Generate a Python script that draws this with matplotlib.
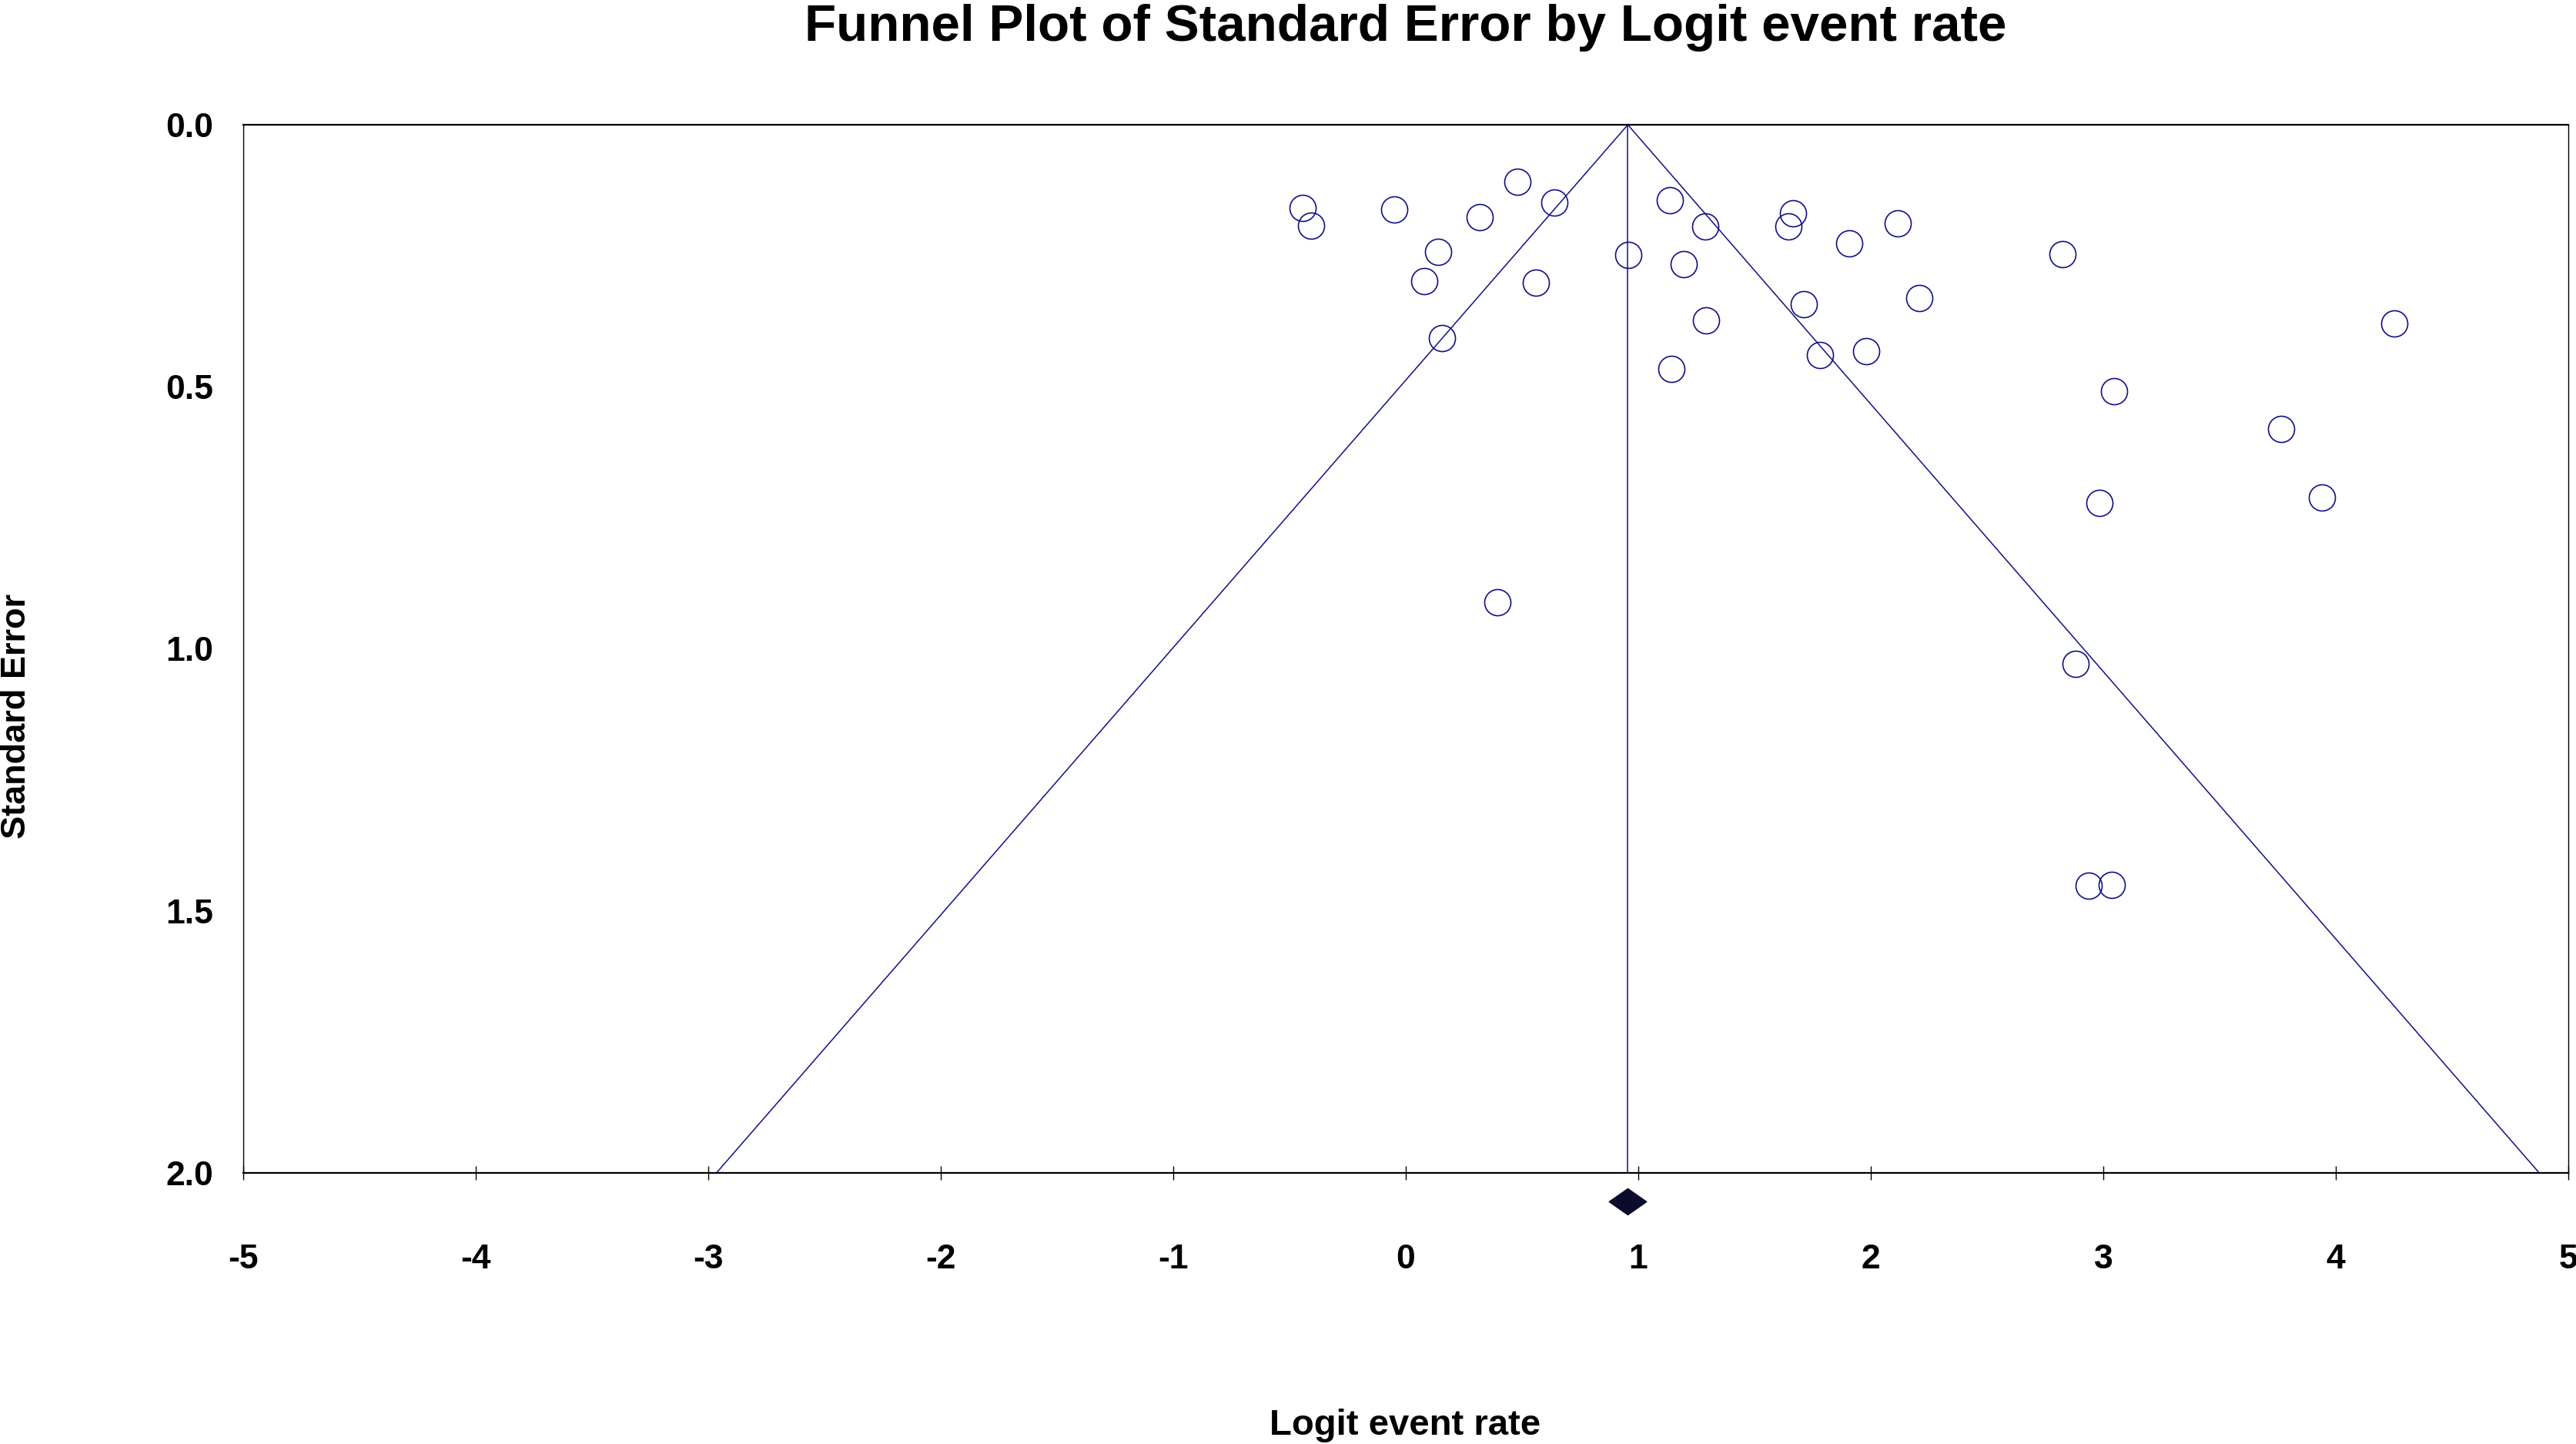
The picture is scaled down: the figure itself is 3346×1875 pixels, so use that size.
import matplotlib
matplotlib.use("Agg")
import matplotlib.pyplot as plt
import numpy as np
from matplotlib.path import Path

plt.rcParams['font.family'] = ['Liberation Sans', 'DejaVu Sans']
plt.rcParams['font.weight'] = 'bold'

# study estimates
logit_rate = [-0.443, -0.408, -0.051, 0.481, 0.317, 0.639, 0.139, 0.081, 0.558,
              0.157, 0.958, 1.135, 1.287, 1.194, 1.290, 1.143, 1.665, 1.645,
              1.908, 2.116, 1.711, 2.207, 1.781, 1.980, 2.823, 4.252, 3.047,
              3.765, 3.941, 2.983, 0.395, 2.882, 2.936, 3.037]
std_err = [0.159, 0.192, 0.161, 0.109, 0.176, 0.148, 0.242, 0.299, 0.301,
           0.407, 0.248, 0.144, 0.194, 0.266, 0.373, 0.466, 0.169, 0.194,
           0.227, 0.188, 0.342, 0.331, 0.440, 0.432, 0.247, 0.379, 0.509,
           0.581, 0.711, 0.722, 0.911, 1.029, 1.452, 1.450]

pooled = 0.955
se_range = [0.0, 2.0]
x_ticks = [-5, -4, -3, -2, -1, 0, 1, 2, 3, 4, 5]
y_ticks = [0.0, 0.5, 1.0, 1.5, 2.0]

navy = "#10108a"

fig = plt.figure(figsize=(33.46, 18.75), dpi=100)
ax = fig.add_axes([316/3346, 1-1523/1875, (3336-316)/3346, (1523-162)/1875])

# funnel: pooled +/- 1.96 SE
se_line = np.array(se_range)
ax.plot(pooled - 1.96*se_line, se_line, '-', color=navy, lw=1.1)
ax.plot(pooled + 1.96*se_line, se_line, '-', color=navy, lw=1.1)
ax.plot([pooled, pooled], se_range, '-', color=navy, lw=1.1)

ax.plot(logit_rate, std_err, 'o', markerfacecolor='none',
        markeredgecolor=navy, markersize=24.5, markeredgewidth=1.2)

# summary diamond under the axis
diamond = Path([(-1, 0), (0, 0.7), (1, 0), (0, -0.7), (-1, 0)],
               [Path.MOVETO, Path.LINETO, Path.LINETO, Path.LINETO, Path.CLOSEPOLY])
ax.plot([pooled], [2.054], marker=diamond, markersize=35, color="#0b0b2e",
        linestyle='none', clip_on=False)

ax.set_xlim(-5, 5)
ax.set_ylim(2, 0)
ax.set_xticks(x_ticks)
ax.set_xticklabels([str(t) for t in x_ticks])
ax.set_yticks(y_ticks)
ax.set_yticklabels(["{0:.1f}".format(t) for t in y_ticks])

ax.tick_params(axis='x', direction='inout', length=13, width=1, pad=60,
               labelsize=32)
ax.tick_params(axis='y', length=0, pad=28, labelsize=32)
for lbl in ax.get_xticklabels() + ax.get_yticklabels():
    lbl.set_fontweight('bold')

for side in ['top', 'bottom']:
    ax.spines[side].set_linewidth(1.6)
for side in ['left', 'right']:
    ax.spines[side].set_linewidth(1.0)

fig.text(1826/3346, 1-53/1875, "Funnel Plot of Standard Error by Logit event rate",
         ha='center', va='baseline', fontsize=48.5, fontweight='bold')
fig.text(1825/3346, 1-1863/1875, "Logit event rate",
         ha='center', va='baseline', fontsize=34, fontweight='bold')
fig.text(22/3346, 1-930/1875, "Standard Error", rotation=90,
         ha='center', va='center', fontsize=32.5, fontweight='bold')

fig.savefig("out.png", dpi=100)
plt.close()
